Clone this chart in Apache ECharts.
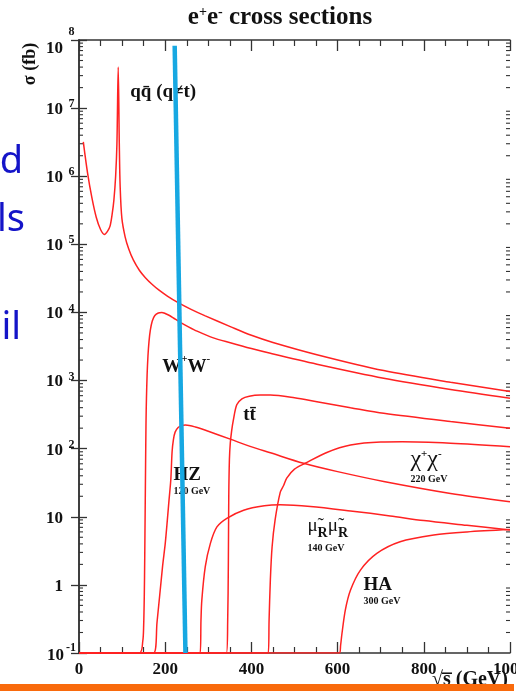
<!DOCTYPE html>
<html>
<head>
<meta charset="utf-8">
<script src="https://cdn.jsdelivr.net/npm/echarts@6/dist/echarts.min.js"></script>
<style>
  html, body { margin: 0; padding: 0; background: #ffffff; }
  #chart { width: 516px; height: 691px; }
</style>
</head>
<body>
<div id="chart"></div>
<script>
// Centre-of-mass energy sqrt(s) in GeV, cross section sigma in fb: [sqrt(s), sigma]
const qqbar = [[10,3.2e6],[20,1.1e6],[30,4.8e5],[40,2.5e5],[50,1.65e5],[59,1.4e5],[66,1.55e5],[72,1.85e5],[77,2.8e5],[81,4.5e5],[85,1e6],[88,3e6],[91,4e7],[93.5,3e6],[95.5,7e5],[99.5,2.4e5],[107,1.29e5],[115,8.7e4],[126,5.9e4],[140,4.17e4],[154,3.24e4],[170,2.57e4],[185,2.14e4],[205,1.74e4],[231,1.38e4],[260,1.11e4],[293,8.9e3],[351,6.2e3],[400,4.62e3],[450,3.63e3],[552,2.4e3],[707,1.4e3],[862,944],[1000,692]];
const wpwm = [[0,0.1],[140,0.1],[148,0.15],[150,0.25],[151.5,0.7],[152.5,2.5],[153.5,12],[154.5,60],[155.5,250],[156.5,550],[158,1200],[160,2300],[162.5,3800],[165.5,5500],[170,7500],[176,9000],[184,9800],[192,1e4],[200,9660],[210,9020],[220,8220],[235,7160],[255,6100],[274,5310],[310,4270],[351,3590],[400,2950],[444,2510],[552,1740],[707,1084],[862,741],[1000,550]];
const hz = [[0,0.1],[173,0.1],[181,0.28],[194,1.9],[200,4],[205,9],[209,18],[213,35],[216,90],[219,135],[223,175],[230,205],[238,218],[247,222],[270,208],[300,180],[351,138],[397,108],[444,87],[521,61],[600,46],[707,33],[862,22],[1000,16.6]];
const ttbar = [[0,0.1],[342,0.1],[345,0.3],[346.5,2],[347.5,20],[349,70],[351,120],[354,180],[358,260],[366,440],[378,540],[395,590],[421,612],[444,612],[500,560],[552,490],[630,400],[707,330],[862,250],[1000,200]];
const charginos = [[0,0.1],[439,0.1],[441,0.3],[444,1.2],[448,3.6],[455,9],[467,23],[475,29],[482,37],[500,50],[525,61],[575,88],[630,113],[700,125],[750,126],[862,120],[1000,107]];
const smuons = [[0,0.1],[281,0.1],[283,0.3],[285,0.6],[293,1.85],[305,4.1],[320,7.1],[343,9.5],[382,12.5],[430,14.5],[467,15],[537,14.2],[630,12.2],[722,10.3],[800,8.8],[900,7.5],[1000,6.4]];
const higgsHA = [[0,0.1],[604,0.1],[607,0.13],[610,0.19],[618,0.43],[630,0.84],[653,1.65],[691,2.9],[745,4.3],[823,5.4],[900,6.0],[1000,6.5]];

// Highlight stroke drawn across the plot
const marker = [[222, 8.25e7], [247, 0.1]];

// Axis ranges and tick layout
const xRange = [0, 1000];
const xMajorStep = 200;
const yRange = [0.1, 1e8];
const minorMultipliers = [2, 3, 4, 5, 6, 7, 8, 9];
const decades = [-1, 0, 1, 2, 3, 4, 5, 6, 7];

// Process labels placed at [sqrt(s), sigma]
const processLabels = [
  { at: [119, 1.72e7], text: '{m|qq\u0304 (q\u2260t)}' },
  { at: [193, 1690],   text: '{m|W}{p|+}{m|W}{p|-}' },
  { at: [381, 311],    text: '{m|tt\u0304}' },
  { at: [219, 40.9],   text: '{h|HZ}' },
  { at: [219, 23.8],   text: '{g|120 GeV}' },
  { at: [769, 70],     text: '{c|\u03c7}{p|+}{c|\u03c7}{p|-}' },
  { at: [769, 35.8],   text: '{g|220 GeV}' },
  { at: [530, 6.8],    text: '{u|\u03bc\u0303}{r|R}{u|\u03bc\u0303}{r|R}' },
  { at: [530, 3.47],   text: '{g|140 GeV}' },
  { at: [660, 0.99],   text: '{h|HA}' },
  { at: [660, 0.578],  text: '{g|300 GeV}' }
];

const SERIF = '"Liberation Serif", "Times New Roman", serif';
const INK = '#111111';
const AXIS = '#333333';
const CURVE = '#ff2222';

const minorTickValues = [];
decades.forEach(d => minorMultipliers.forEach(m => minorTickValues.push([xRange[0], m * Math.pow(10, d)])));

function curve(name, data) {
  return {
    name, type: 'line', data, showSymbol: false, symbol: 'none', smooth: 0.3,
    lineStyle: { color: CURVE, width: 1.5 }, z: 3, silent: true
  };
}

const chart = echarts.init(document.getElementById('chart'), null, { renderer: 'canvas' });

const xAxisBase = {
  type: 'value', min: xRange[0], max: xRange[1], interval: xMajorStep,
  axisLine: { lineStyle: { color: AXIS, width: 1.5 } },
  axisTick: { inside: true, length: 11, lineStyle: { color: AXIS, width: 1.3 } },
  minorTick: { show: true, splitNumber: 4, length: 6, lineStyle: { color: AXIS, width: 1.2 } },
  splitLine: { show: false }, minorSplitLine: { show: false }
};
const yAxisBase = {
  type: 'log', logBase: 10, min: yRange[0], max: yRange[1], interval: 1,
  axisLine: { show: true, lineStyle: { color: AXIS, width: 1.5 } },
  axisTick: { show: true, inside: true, length: 8, lineStyle: { color: AXIS, width: 1.3 } },
  splitLine: { show: false }
};

const labelFont = { fontFamily: SERIF, fontWeight: 'bold', color: INK, verticalAlign: 'bottom' };

chart.setOption({
  backgroundColor: '#ffffff',
  animation: false,
  grid: { left: 79, right: 6, top: 40, bottom: 38, containLabel: false, outerBoundsMode: 'none' },
  xAxis: [
    Object.assign({}, xAxisBase, {
      position: 'bottom',
      axisLabel: { margin: 8, fontFamily: SERIF, fontWeight: 'bold', fontSize: 17, color: INK,
                   formatter: v => String(v) }
    }),
    Object.assign({}, xAxisBase, { position: 'top', axisLabel: { show: false } })
  ],
  yAxis: [
    Object.assign({}, yAxisBase, {
      position: 'left',
      axisLabel: {
        margin: 2,
        formatter: v => {
          const e = Math.round(Math.log10(v));
          if (e === 0) return '{b|1}{s|\u00a0}';
          if (e === 1) return '{b|10}{s|\u00a0}';
          if (e === 8) return '{bt|10}{st|8}';
          if (e === -1) return '{b|10}{sl|-1}';
          return '{b|10}{s|' + e + '}';
        },
        rich: {
          b:  Object.assign({ fontSize: 17 }, labelFont),
          bt: Object.assign({ fontSize: 17, padding: [18, 0, 0, 0] }, labelFont),
          s:  Object.assign({ fontSize: 12, width: 11, align: 'left', padding: [0, 0, 8, 3] }, labelFont),
          st: Object.assign({ fontSize: 12, width: 11, align: 'left', padding: [0, 0, 20, 3] }, labelFont),
          sl: Object.assign({ fontSize: 12, width: 12, align: 'left', padding: [0, 0, 11, 1] }, labelFont)
        }
      }
    }),
    Object.assign({}, yAxisBase, { position: 'right', axisLabel: { show: false } })
  ],
  series: [
    curve('qqbar', qqbar),
    curve('WW', wpwm),
    curve('HZ', hz),
    curve('ttbar', ttbar),
    curve('chargino pair', charginos),
    curve('smuon pair', smuons),
    curve('HA', higgsHA),
    {
      // logarithmic minor ticks on the left and right frame
      type: 'custom', silent: true, z: 1,
      data: minorTickValues,
      renderItem: (params, api) => {
        const v = api.value(1);
        const pl = api.coord([xRange[0], v]);
        const pr = api.coord([xRange[1], v]);
        const st = { stroke: AXIS, lineWidth: 1.1 };
        return {
          type: 'group',
          children: [
            { type: 'line', shape: { x1: pl[0], y1: pl[1], x2: pl[0] + 4, y2: pl[1] }, style: st },
            { type: 'line', shape: { x1: pr[0], y1: pr[1], x2: pr[0] - 4, y2: pr[1] }, style: st }
          ]
        };
      }
    },
    {
      type: 'scatter', silent: true, symbolSize: 0, z: 4,
      itemStyle: { opacity: 1 },
      data: processLabels.map(l => ({ value: l.at, label: { formatter: l.text } })),
      label: {
        show: true, position: 'right', distance: 0, opacity: 1, color: INK,
        rich: {
          m: { fontFamily: SERIF, fontWeight: 'bold', fontSize: 19, color: INK, verticalAlign: 'bottom' },
          h: { fontFamily: SERIF, fontWeight: 'bold', fontSize: 19, color: INK },
          c: { fontFamily: SERIF, fontSize: 24, color: INK, verticalAlign: 'bottom' },
          p: { fontFamily: SERIF, fontWeight: 'bold', fontSize: 11, color: INK, verticalAlign: 'bottom', padding: [0, 0, 12, 0] },
          u: { fontFamily: SERIF, fontSize: 19, color: INK, verticalAlign: 'bottom', padding: [0, 0, 5, 0] },
          r: { fontFamily: SERIF, fontWeight: 'bold', fontSize: 14, color: INK, verticalAlign: 'bottom' },
          g: { fontFamily: SERIF, fontWeight: 'bold', fontSize: 10, color: INK }
        }
      }
    },
    {
      name: 'marker', type: 'line', data: marker, symbol: 'none', clip: false, silent: true, z: 10,
      lineStyle: { color: '#17a8e2', width: 4.5, cap: 'butt' }
    }
  ],
  graphic: [
    {
      type: 'text', x: 280, y: 18, z: 5,
      style: {
        text: '{a|e}{p|+}{a|e}{p|-}{a| cross sections}',
        align: 'center', verticalAlign: 'middle',
        rich: {
          a: { fontFamily: SERIF, fontWeight: 'bold', fontSize: 25, fill: INK, verticalAlign: 'bottom' },
          p: { fontFamily: SERIF, fontWeight: 'bold', fontSize: 14, fill: INK, verticalAlign: 'bottom', padding: [0, 0, 11, 0] }
        }
      }
    },
    {
      type: 'text', x: 30, y: 64, rotation: Math.PI / 2, z: 5,
      style: { text: '\u03c3 (fb)', align: 'center', verticalAlign: 'middle',
               fontFamily: SERIF, fontWeight: 'bold', fontSize: 18, fill: INK }
    },
    {
      type: 'text', x: 432, y: 680, z: 5,
      style: { text: '\u221as\u0305 (GeV)', align: 'left', verticalAlign: 'middle',
               fontFamily: SERIF, fontWeight: 'bold', fontSize: 20, fill: INK }
    },
    { type: 'text', x: 23, y: 162, z: 5,
      style: { text: 'd', align: 'right', verticalAlign: 'middle', fontFamily: '"Noto Sans", sans-serif', fontSize: 38, fill: '#1414c8' } },
    { type: 'text', x: 25, y: 220, z: 5,
      style: { text: 'ls', align: 'right', verticalAlign: 'middle', fontFamily: '"Noto Sans", sans-serif', fontSize: 38, fill: '#1414c8' } },
    { type: 'text', x: 21, y: 328, z: 5,
      style: { text: 'il', align: 'right', verticalAlign: 'middle', fontFamily: '"Noto Sans", sans-serif', fontSize: 38, fill: '#1414c8' } },
    { type: 'rect', z: 20, shape: { x: 0, y: 684, width: 514, height: 7 }, style: { fill: '#f96a0c' } }
  ]
});
</script>
</body>
</html>
